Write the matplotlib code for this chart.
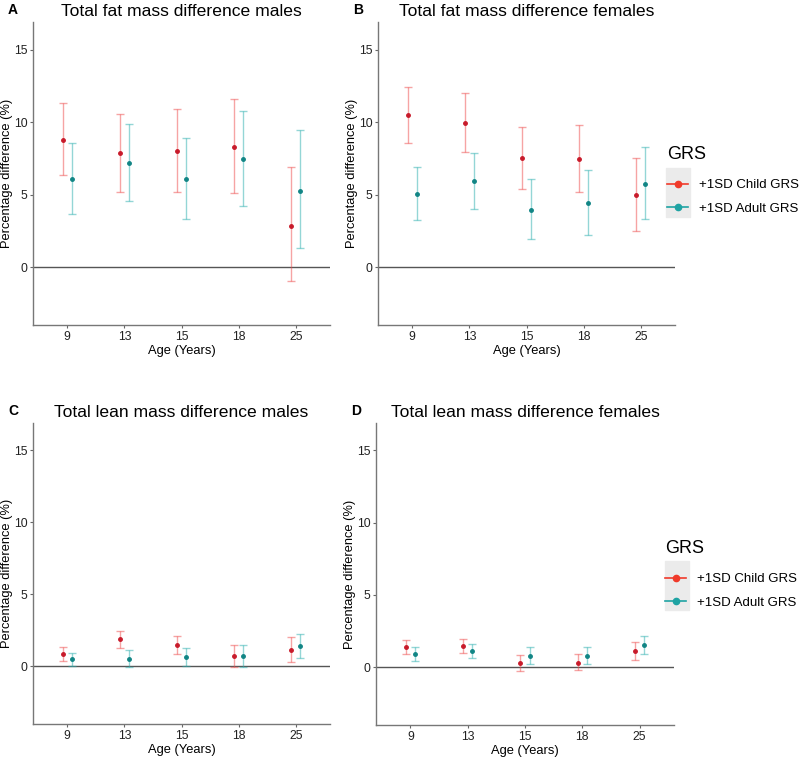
import numpy as np
import matplotlib.pyplot as plt
from matplotlib.lines import Line2D
from matplotlib.patches import Rectangle

plt.rcParams['font.family'] = ['Liberation Sans', 'DejaVu Sans']

ages = ['9', '13', '15', '18', '25']
groups = ['+1SD Child GRS', '+1SD Adult GRS']

# A: total fat mass, males
fat_m_child = [8.78, 7.85, 8.01, 8.31, 2.86]
fat_m_child_lo = [6.33, 5.20, 5.20, 5.08, -0.99]
fat_m_child_hi = [11.29, 10.55, 10.88, 11.62, 6.88]
fat_m_adult = [6.05, 7.18, 6.05, 7.44, 5.27]
fat_m_adult_lo = [3.67, 4.55, 3.30, 4.23, 1.29]
fat_m_adult_hi = [8.55, 9.86, 8.91, 10.76, 9.45]

# B: total fat mass, females
fat_f_child = [10.46, 9.95, 7.52, 7.48, 4.95]
fat_f_child_lo = [8.52, 7.94, 5.37, 5.19, 2.50]
fat_f_child_hi = [12.43, 12.01, 9.68, 9.79, 7.52]
fat_f_adult = [5.02, 5.90, 3.96, 4.42, 5.76]
fat_f_adult_lo = [3.24, 3.98, 1.92, 2.18, 3.29]
fat_f_adult_hi = [6.88, 7.87, 6.06, 6.69, 8.29]

# C: total lean mass, males
lean_m_child = [0.86, 1.88, 1.50, 0.69, 1.13]
lean_m_child_lo = [0.37, 1.25, 0.83, -0.05, 0.28]
lean_m_child_hi = [1.32, 2.48, 2.10, 1.46, 2.01]
lean_m_adult = [0.49, 0.53, 0.65, 0.69, 1.41]
lean_m_adult_lo = [0.00, -0.05, 0.00, -0.05, 0.56]
lean_m_adult_hi = [0.90, 1.13, 1.25, 1.46, 2.25]

# D: total lean mass, females
lean_f_child = [1.42, 1.49, 0.32, 0.32, 1.12]
lean_f_child_lo = [0.92, 1.01, -0.23, -0.18, 0.50]
lean_f_child_hi = [1.90, 1.95, 0.85, 0.89, 1.74]
lean_f_adult = [0.94, 1.12, 0.80, 0.80, 1.56]
lean_f_adult_lo = [0.44, 0.62, 0.25, 0.23, 0.92]
lean_f_adult_hi = [1.40, 1.58, 1.38, 1.38, 2.18]

panels = [
    ('A', 'Total fat mass difference males',
     [(fat_m_child, fat_m_child_lo, fat_m_child_hi), (fat_m_adult, fat_m_adult_lo, fat_m_adult_hi)]),
    ('B', 'Total fat mass difference females',
     [(fat_f_child, fat_f_child_lo, fat_f_child_hi), (fat_f_adult, fat_f_adult_lo, fat_f_adult_hi)]),
    ('C', 'Total lean mass difference males',
     [(lean_m_child, lean_m_child_lo, lean_m_child_hi), (lean_m_adult, lean_m_adult_lo, lean_m_adult_hi)]),
    ('D', 'Total lean mass difference females',
     [(lean_f_child, lean_f_child_lo, lean_f_child_hi), (lean_f_adult, lean_f_adult_lo, lean_f_adult_hi)]),
]

bar_colours = ['#EE4A4A', '#2AAFAF']
pt_colours = ['#C81A2A', '#118585']
key_colours = ['#F03A2A', '#1FA3A3']
dodge = [-0.08, 0.08]

W, H = 800, 757
fig = plt.figure(figsize=(W / 100, H / 100), dpi=100)

# axes boxes in pixels: left, top, right, bottom
boxes = [(33, 22, 330, 325), (378, 22, 675, 325),
         (33, 423, 330, 724), (376, 423, 674, 725)]

axes = []
for (label, title, series), (l, t, r, b) in zip(panels, boxes):
    ax = fig.add_axes([l / W, 1 - b / H, (r - l) / W, (b - t) / H])
    ax.patch.set_facecolor('none')
    axes.append(ax)
    x = np.arange(1, len(ages) + 1)
    ax.axhline(0, color='#555555', lw=1.0, zorder=1)
    for k, (mid, lo, hi) in enumerate(series):
        mid = np.array(mid)
        err = [mid - np.array(lo), np.array(hi) - mid]
        ax.errorbar(x + dodge[k], mid, yerr=err, fmt='none', ecolor=bar_colours[k],
                    alpha=0.5, elinewidth=1.0, capsize=2.6, capthick=1.0, zorder=2)
        ax.plot(x + dodge[k], mid, 'o', color=pt_colours[k], ms=2.5, zorder=3)
    ax.set_xlim(0.4, 5.6)
    ax.set_ylim(-4.0, 16.9)
    ax.set_xticks(x)
    ax.set_xticklabels(ages)
    ax.set_yticks([0, 5, 10, 15])
    ax.set_xlabel('Age (Years)', fontsize=9.3, labelpad=1.5)
    ax.set_ylabel('Percentage difference (%)', fontsize=9.3)
    ax.yaxis.set_label_coords(-20 / (r - l), 0.5)
    ax.tick_params(axis='both', labelsize=8.8, color='#666666', length=2.5,
                   width=0.8, pad=1.5, labelcolor='#222222')
    for s in ['top', 'right']:
        ax.spines[s].set_visible(False)
    for s in ['left', 'bottom']:
        ax.spines[s].set_color('#777777')
        ax.spines[s].set_linewidth(1.0)
    ax.set_title(title, fontsize=12.6, pad=4)
    fig.text((l - 25) / W, 1 - (t - 12) / H, label, fontsize=10, fontweight='bold',
             va='center', ha='left')

handles = [Line2D([], [], color=c, marker='o', ms=4.5, lw=1.2) for c in key_colours]
# legend anchor (x, top) and grey key background (left, top, right, bottom), pixels
legend_spots = [((667, 146), (666, 168, 690, 217)),
                ((665, 540), (665, 561, 689, 610))]
for ax, ((lx, ty), (kl, kt, kr, kb)) in zip([axes[1], axes[3]], legend_spots):
    leg = ax.legend(handles, groups, title='GRS', loc='upper left',
                    bbox_to_anchor=(lx / W, 1 - ty / H), bbox_transform=fig.transFigure,
                    frameon=False, fontsize=9.5, title_fontsize=13, alignment='left',
                    handlelength=1.6, handletextpad=0.8, labelspacing=0.85,
                    borderpad=0, borderaxespad=0)
    leg._legend_box.sep = 11.5
    # grey panel behind the legend keys, like ggplot's key background
    fig.add_artist(Rectangle((kl / W, 1 - kb / H), (kr - kl) / W, (kb - kt) / H,
                             transform=fig.transFigure, color='#EBEBEB', zorder=0))

fig.savefig('out.png', dpi=100)
